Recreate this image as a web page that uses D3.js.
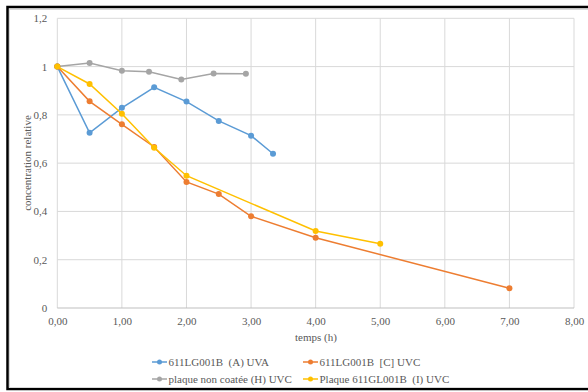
<!DOCTYPE html>
<html><head><meta charset="utf-8">
<script src="https://cdn.jsdelivr.net/npm/d3@7"></script>
<style>body{margin:0;background:#fff}svg{display:block}svg text{white-space:pre}</style>
</head><body><svg id="c" width="588" height="392"></svg>
<script>
const xA=[0,0.5,1,1.5,2,2.5,3,3.34];
const yA=[1,0.726,0.829,0.914,0.855,0.775,0.714,0.639];
const xC=[0,0.5,1,1.5,2,2.5,3,4,7];
const yC=[1,0.856,0.761,0.667,0.522,0.472,0.380,0.291,0.082];
const xH=[0,0.5,1,1.42,1.92,2.42,2.92];
const yH=[1,1.015,0.983,0.979,0.947,0.971,0.970];
const xI=[0,0.5,1,1.5,2,4,5];
const yI=[1,0.928,0.805,0.664,0.548,0.319,0.266];
const seriesNames=["611LG001B  (A) UVA","611LG001B  [C] UVC","plaque non coatée (H) UVC","Plaque 611GL001B  (I) UVC"];
const colors=["#5B9BD5","#ED7D31","#A5A5A5","#FFC000"];
const xTicks=[0,1,2,3,4,5,6,7,8];
const yTicks=[0,0.2,0.4,0.6,0.8,1,1.2];

const FONT="Liberation Serif";
const FS=11;
const svg=d3.select("#c").attr("font-family",FONT);
svg.append("rect").attr("x",7.5).attr("y",7).attr("width",590).attr("height",382).attr("fill","none").attr("stroke","#000").attr("stroke-width",2.5);
svg.append("rect").attr("x",9.5).attr("y",9.5).attr("width",590).attr("height",378).attr("fill","none").attr("stroke","#d9d9d9").attr("stroke-width",1);

const x=d3.scaleLinear().domain([0,8]).range([57.3,574]);
const y=d3.scaleLinear().domain([0,1.2]).range([308,18.3]);
const g=svg.append("g");
g.selectAll(".gy").data(yTicks.filter(d=>d>0)).join("line").attr("x1",x(0)).attr("x2",x(8)).attr("y1",d=>y(d)).attr("y2",d=>y(d)).attr("stroke","#d9d9d9").attr("stroke-width",1);
g.selectAll(".gx").data(xTicks.filter(d=>d>0)).join("line").attr("x1",d=>x(d)).attr("x2",d=>x(d)).attr("y1",y(0)).attr("y2",y(1.2)).attr("stroke","#d9d9d9").attr("stroke-width",1);
g.append("line").attr("x1",x(0)).attr("x2",x(0)).attr("y1",y(0)).attr("y2",y(1.2)).attr("stroke","#d9d9d9");
g.append("line").attr("x1",x(0)).attr("x2",x(8)).attr("y1",y(0)).attr("y2",y(0)).attr("stroke","#bfbfbf");

const fmtY=d=>d3.format("~g")(d).replace(".",",");
const fmtX=d=>d3.format(".2f")(d).replace(".",",");
const ax=d3.axisLeft(y).tickValues(yTicks).tickSize(0).tickPadding(10).tickFormat(fmtY);
const ag=svg.append("g").attr("transform",`translate(${x(0)},0)`).call(ax).attr("font-family",FONT).attr("font-size",FS);
ag.select(".domain").remove();
ag.selectAll("text").attr("fill","#595959");
const bx=d3.axisBottom(x).tickValues(xTicks).tickSize(0).tickPadding(9).tickFormat(fmtX);
const bg=svg.append("g").attr("transform",`translate(0,${y(0)})`).call(bx).attr("font-family",FONT).attr("font-size",FS);
bg.select(".domain").remove();
bg.selectAll("text").attr("fill","#595959");

svg.append("text").attr("x",316).attr("y",341).attr("text-anchor","middle").attr("fill","#595959").attr("font-size",FS).text("temps (h)");
svg.append("text").attr("transform","translate(30.5,163) rotate(-90)").attr("text-anchor","middle").attr("fill","#595959").attr("font-size",FS).text("concentration relative");

const data=[[xA,yA],[xC,yC],[xH,yH],[xI,yI]];
const line=d3.line().x(d=>x(d[0])).y(d=>y(d[1]));
const order=[2,0,1,3];
order.forEach(i=>{
  const pts=data[i][0].map((v,k)=>[v,data[i][1][k]]);
  svg.append("path").datum(pts).attr("d",line).attr("fill","none").attr("stroke",colors[i]).attr("stroke-width",1.5);
  svg.selectAll(null).data(pts).join("circle").attr("cx",d=>x(d[0])).attr("cy",d=>y(d[1])).attr("r",3).attr("fill",colors[i]);
});

const lpos=[[152,362],[303,362],[152,379],[303,379]];
seriesNames.forEach((n,i)=>{
  const [lx,ly]=lpos[i];
  svg.append("line").attr("x1",lx).attr("x2",lx+15).attr("y1",ly).attr("y2",ly).attr("stroke",colors[i]).attr("stroke-width",1.5);
  svg.append("circle").attr("cx",lx+7.5).attr("cy",ly).attr("r",2.5).attr("fill",colors[i]);
  svg.append("text").attr("x",lx+16.5).attr("y",ly+4).attr("fill","#595959").attr("font-size",FS).text(n);
});
</script></body></html>
